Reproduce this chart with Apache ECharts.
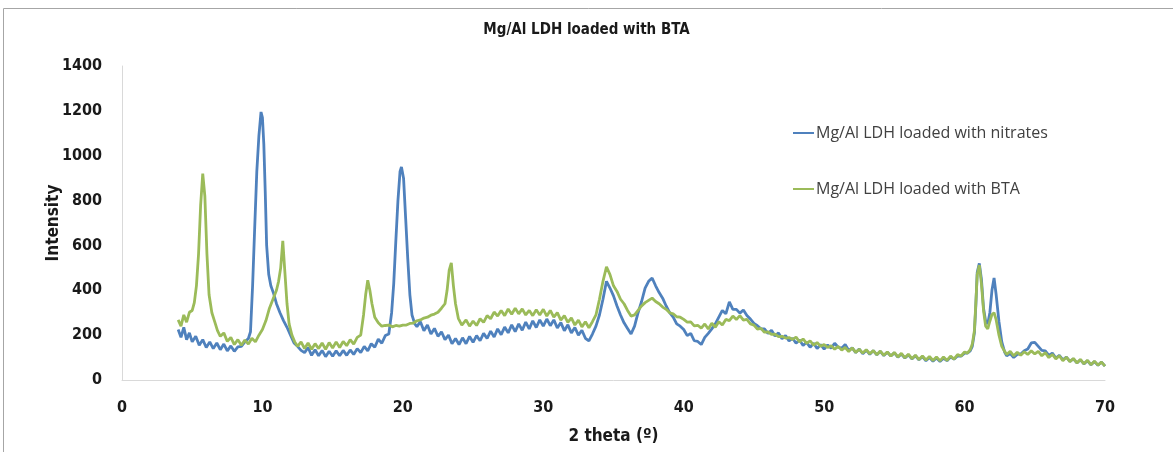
<!DOCTYPE html>
<html>
<head>
<meta charset="utf-8">
<script src="https://cdn.jsdelivr.net/npm/echarts@6/dist/echarts.min.js"></script>
<style>
html,body{margin:0;padding:0;background:#fff;}
#container{width:1173px;height:452px;}
</style>
</head>
<body>
<div id="container"></div>
<script>
var nitratesTheta=[4.0,4.2,4.4,4.6,4.8,5.0,5.25,5.5,5.75,6.0,6.25,6.5,6.75,7.0,7.25,7.5,7.75,8.0,8.25,8.5,8.75,9.0,9.15,9.3,9.45,9.6,9.75,9.9,10.0,10.1,10.2,10.3,10.45,10.6,10.8,11.0,11.25,11.5,11.75,12.0,12.25,12.5,12.75,13.0,13.25,13.5,13.75,14.0,14.25,14.5,14.75,15.0,15.25,15.5,15.75,16.0,16.25,16.5,16.75,17.0,17.25,17.5,17.75,18.0,18.25,18.5,18.75,19.0,19.2,19.35,19.5,19.65,19.8,19.9,20.05,20.2,20.35,20.5,20.65,20.85,21.0,21.25,21.5,21.75,22.0,22.25,22.5,22.75,23.0,23.25,23.5,23.75,24.0,24.25,24.5,24.75,25.0,25.25,25.5,25.75,26.0,26.25,26.5,26.75,27.0,27.25,27.5,27.75,28.0,28.25,28.5,28.75,29.0,29.25,29.5,29.75,30.0,30.25,30.5,30.75,31.0,31.25,31.5,31.75,32.0,32.25,32.5,32.75,33.0,33.25,33.5,33.75,34.0,34.25,34.5,34.75,35.0,35.25,35.5,35.75,36.0,36.25,36.5,36.75,37.0,37.25,37.5,37.75,38.0,38.25,38.5,38.75,39.0,39.25,39.5,39.75,40.0,40.25,40.5,40.75,41.0,41.25,41.5,41.75,42.0,42.25,42.5,42.75,43.0,43.25,43.5,43.75,44.0,44.25,44.5,44.75,45.0,45.25,45.5,45.75,46.0,46.25,46.5,46.75,47.0,47.25,47.5,47.75,48.0,48.25,48.5,48.75,49.0,49.25,49.5,49.75,50.0,50.25,50.5,50.75,51.0,51.25,51.5,51.75,52.0,52.25,52.5,52.75,53.0,53.25,53.5,53.75,54.0,54.25,54.5,54.75,55.0,55.25,55.5,55.75,56.0,56.25,56.5,56.75,57.0,57.25,57.5,57.75,58.0,58.25,58.5,58.75,59.0,59.25,59.5,59.75,60.0,60.2,60.4,60.55,60.7,60.8,60.9,61.05,61.2,61.35,61.5,61.65,61.8,61.95,62.1,62.25,62.45,62.65,62.85,63.0,63.25,63.5,63.75,64.0,64.25,64.5,64.75,65.0,65.25,65.5,65.75,66.0,66.25,66.5,66.75,67.0,67.25,67.5,67.75,68.0,68.25,68.5,68.75,69.0,69.25,69.5,69.75,70.0];
var nitratesIntensity=[225,190,235,180,210,170,195,155,180,145,170,140,165,135,160,130,152,128,148,150,170,185,215,420,680,930,1090,1195,1170,1050,840,600,470,420,385,340,300,265,235,200,165,150,132,122,145,110,135,108,132,104,128,106,130,108,132,110,134,114,140,122,150,130,162,146,182,164,198,205,300,430,620,800,930,950,900,720,540,380,290,250,238,260,220,245,205,230,195,215,180,200,162,185,158,188,162,194,168,198,175,208,185,218,192,228,202,236,210,246,216,250,222,258,228,264,234,268,240,272,242,268,232,256,220,246,210,234,200,222,186,174,205,240,290,360,440,410,375,330,290,255,230,205,240,300,350,410,440,455,420,390,365,330,300,280,250,240,225,198,208,175,172,158,190,208,228,250,280,310,295,348,315,315,298,312,288,272,252,242,228,228,208,222,196,210,184,198,174,186,164,178,154,168,146,164,140,158,138,156,142,164,146,142,158,132,143,122,138,117,133,115,131,112,128,109,124,107,121,102,116,98,112,94,108,90,104,86,100,84,98,83,97,86,102,93,107,106,120,120,130,150,210,330,480,520,450,320,262,250,300,400,455,380,260,170,125,108,118,100,114,116,130,138,165,168,150,132,130,110,120,98,110,90,102,83,94,76,90,72,86,68,82,66,80,62,74];

var btaTheta=[4.0,4.2,4.4,4.6,4.8,5.0,5.15,5.3,5.45,5.6,5.75,5.9,6.05,6.2,6.4,6.6,6.8,7.0,7.25,7.5,7.75,8.0,8.25,8.5,8.75,9.0,9.25,9.5,9.75,10.0,10.25,10.5,10.75,11.0,11.15,11.3,11.45,11.6,11.75,11.9,12.1,12.3,12.5,12.75,13.0,13.25,13.5,13.75,14.0,14.25,14.5,14.75,15.0,15.25,15.5,15.75,16.0,16.25,16.5,16.75,17.0,17.2,17.35,17.5,17.65,17.8,18.0,18.25,18.5,18.75,19.0,19.25,19.5,19.75,20.0,20.25,20.5,20.75,21.0,21.25,21.5,21.75,22.0,22.25,22.5,22.75,23.0,23.15,23.3,23.45,23.6,23.75,23.95,24.2,24.5,24.75,25.0,25.25,25.5,25.75,26.0,26.25,26.5,26.75,27.0,27.25,27.5,27.75,28.0,28.25,28.5,28.75,29.0,29.25,29.5,29.75,30.0,30.25,30.5,30.75,31.0,31.25,31.5,31.75,32.0,32.25,32.5,32.75,33.0,33.25,33.5,33.75,34.0,34.25,34.5,34.75,35.0,35.25,35.5,35.75,36.0,36.25,36.5,36.75,37.0,37.25,37.5,37.75,38.0,38.25,38.5,38.75,39.0,39.25,39.5,39.75,40.0,40.25,40.5,40.75,41.0,41.25,41.5,41.75,42.0,42.25,42.5,42.75,43.0,43.25,43.5,43.75,44.0,44.25,44.5,44.75,45.0,45.25,45.5,45.75,46.0,46.25,46.5,46.75,47.0,47.25,47.5,47.75,48.0,48.25,48.5,48.75,49.0,49.25,49.5,49.75,50.0,50.25,50.5,50.75,51.0,51.25,51.5,51.75,52.0,52.25,52.5,52.75,53.0,53.25,53.5,53.75,54.0,54.25,54.5,54.75,55.0,55.25,55.5,55.75,56.0,56.25,56.5,56.75,57.0,57.25,57.5,57.75,58.0,58.25,58.5,58.75,59.0,59.25,59.5,59.75,60.0,60.2,60.4,60.55,60.7,60.8,60.9,61.05,61.2,61.35,61.5,61.65,61.8,61.95,62.1,62.25,62.45,62.65,62.85,63.0,63.25,63.5,63.75,64.0,64.25,64.5,64.75,65.0,65.25,65.5,65.75,66.0,66.25,66.5,66.75,67.0,67.25,67.5,67.75,68.0,68.25,68.5,68.75,69.0,69.25,69.5,69.75,70.0];
var btaIntensity=[268,240,290,258,302,310,345,420,560,780,920,820,560,380,300,260,220,195,210,172,190,158,180,155,178,160,186,170,200,225,265,320,360,400,440,500,620,480,340,250,200,170,150,170,140,165,137,162,140,165,137,167,143,170,145,172,153,180,160,190,200,290,380,445,400,340,280,255,240,243,245,237,243,240,245,245,252,254,264,268,276,280,289,294,302,320,340,400,490,522,420,340,275,245,268,240,263,243,273,257,287,273,303,285,310,287,317,293,320,295,317,290,310,287,313,290,315,285,310,280,300,267,287,257,277,245,267,237,260,233,260,290,360,440,505,470,420,395,360,340,310,285,290,310,330,345,355,365,350,340,325,315,300,295,282,280,270,258,259,241,244,231,250,227,253,235,260,245,270,265,285,270,287,267,270,250,245,227,230,213,215,203,205,193,195,187,189,181,191,170,183,163,175,155,167,150,158,145,153,137,150,133,145,127,143,123,137,120,135,117,131,113,129,110,125,107,123,103,119,99,115,95,111,91,107,89,105,87,103,85,103,87,107,93,113,107,125,120,135,160,220,340,470,512,430,310,240,228,262,292,300,268,200,150,128,114,128,108,124,110,126,114,130,116,128,108,122,100,114,94,108,86,102,82,96,76,92,72,88,68,84,66,80,62,74];

var xTicks={min:0,max:70,step:10};
var yTicks={min:0,max:1400,step:200};

var seriesNames=['Mg/Al LDH loaded with nitrates','Mg/Al LDH loaded with BTA'];
var seriesColors=['#4F81BD','#9BBB59'];

function zip(xs,ys){
    var out=[];
    for(var i=0;i<xs.length;i++){
        out.push([xs[i],ys[i]]);
    }
    return out;
}

var dom=document.querySelector("#container");
var myChart=echarts.init(dom);

var boldFont='"Liberation Sans Narrow","DejaVu Sans Condensed",sans-serif';

var option={
    animation:false,
    backgroundColor:'#ffffff',
    graphic:[{
        type:'rect',
        shape:{x:3.5,y:8.5,width:1190,height:470},
        style:{fill:'none',stroke:'#a6a6a6',lineWidth:1},
        silent:true
    }],
    title:{
        text:'Mg/Al LDH loaded with BTA',
        left:'center',
        top:18,
        textStyle:{fontFamily:boldFont,fontWeight:'bold',fontSize:15,color:'#1a1a1a'}
    },
    legend:{
        orient:'vertical',
        left:788,
        top:120,
        itemGap:40,
        itemWidth:21,
        itemHeight:2,
        icon:'rect',
        data:seriesNames,
        textStyle:{fontFamily:'"Open Sans",sans-serif',fontSize:16,color:'#404040',padding:[0,0,0,-3]}
    },
    grid:{left:122,right:68,top:66,bottom:72},
    xAxis:{
        type:'value',
        min:xTicks.min,
        max:xTicks.max,
        interval:xTicks.step,
        name:'2 theta (º)',
        nameLocation:'middle',
        nameGap:48,
        nameMoveOverlap:false,
        nameTextStyle:{fontFamily:boldFont,fontWeight:'bold',fontSize:17,color:'#1a1a1a'},
        axisLine:{show:true,lineStyle:{color:'#d9d9d9',width:1}},
        axisTick:{show:false},
        splitLine:{show:false},
        axisLabel:{margin:20,fontFamily:boldFont,fontWeight:'bold',fontSize:16,color:'#1a1a1a'}
    },
    yAxis:{
        type:'value',
        min:yTicks.min,
        max:yTicks.max,
        interval:yTicks.step,
        name:'Intensity',
        nameLocation:'middle',
        nameGap:60,
        nameMoveOverlap:false,
        nameRotate:90,
        nameTextStyle:{fontFamily:boldFont,fontWeight:'bold',fontSize:17,color:'#1a1a1a'},
        axisLine:{show:true,lineStyle:{color:'#d9d9d9',width:1}},
        axisTick:{show:false},
        splitLine:{show:false},
        axisLabel:{margin:20,fontFamily:boldFont,fontWeight:'bold',fontSize:16,color:'#1a1a1a',
            formatter:function(v){return String(v);}}
    },
    series:[{
        name:seriesNames[0],
        type:'line',
        data:zip(nitratesTheta,nitratesIntensity),
        showSymbol:false,
        color:seriesColors[0],
        lineStyle:{width:2.8,color:seriesColors[0]}
    },{
        name:seriesNames[1],
        type:'line',
        data:zip(btaTheta,btaIntensity),
        showSymbol:false,
        color:seriesColors[1],
        lineStyle:{width:2.8,color:seriesColors[1]}
    }]
};

myChart.setOption(option);
</script>
</body>
</html>
